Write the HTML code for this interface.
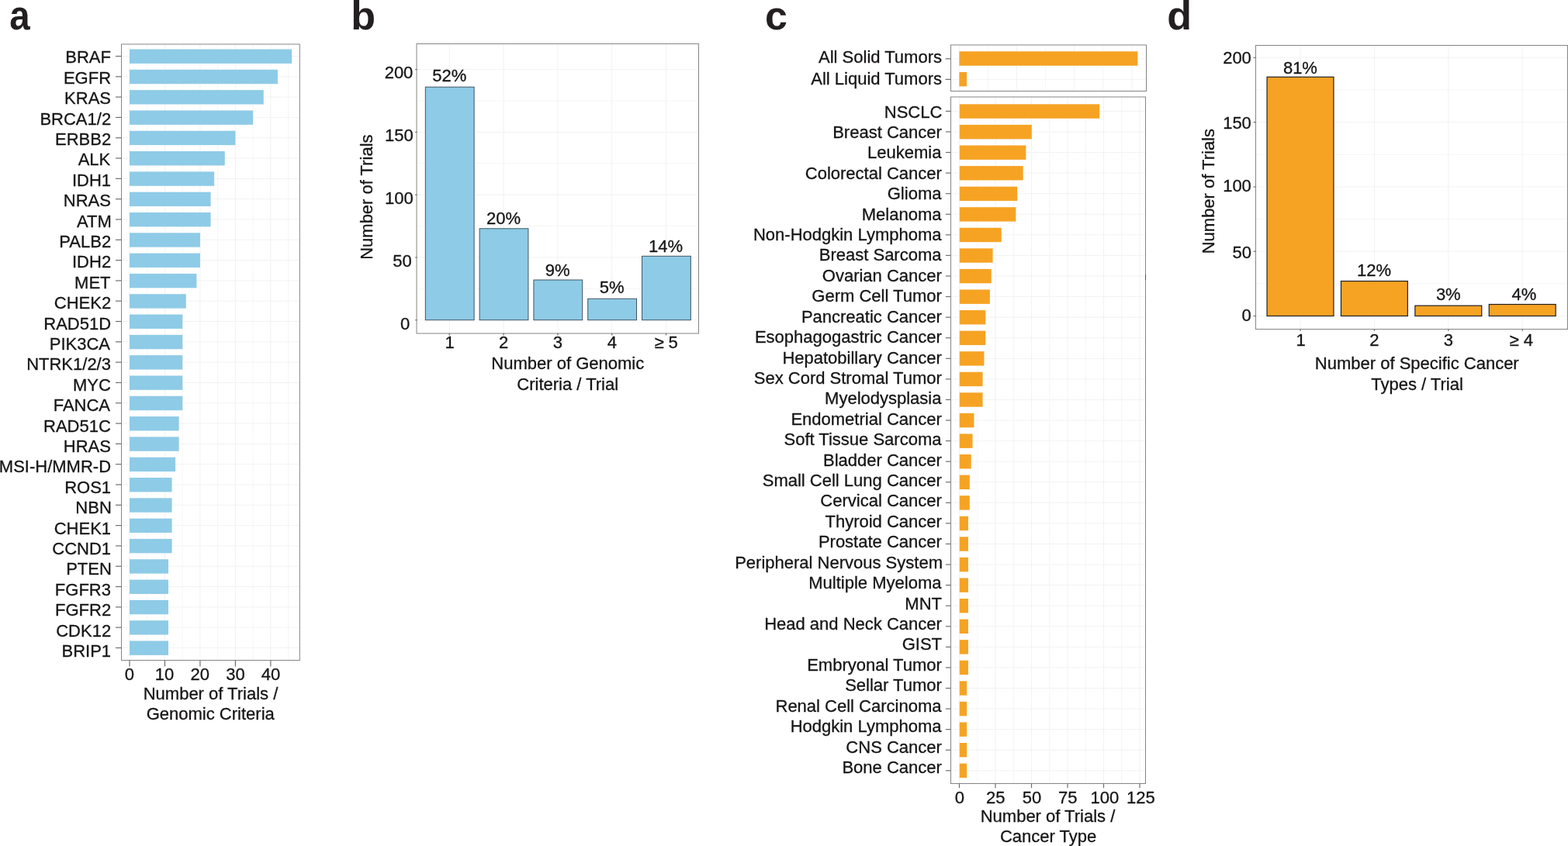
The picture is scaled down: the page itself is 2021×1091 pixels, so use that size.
<!DOCTYPE html>
<html><head><meta charset="utf-8"><title>Figure</title>
<style>
html,body{margin:0;padding:0;background:#ffffff;overflow:hidden;width:2021px;height:1091px;}
svg{display:block;}
text{font-family:"Liberation Sans",Arial,Helvetica,sans-serif;fill:#161415;stroke:#161415;stroke-width:0.3px;}
</style></head>
<body>
<svg width="2021" height="1091" viewBox="0 0 2021 1091">
<rect x="0" y="0" width="2021" height="1091" fill="#ffffff"/>
<text transform="translate(13.75,0) scale(0.913,1)" x="-1.56" y="38.2" font-size="52" font-weight="bold" style="fill:#231f20;stroke:none">a</text>
<text x="452.22" y="38.2" font-size="52" font-weight="bold" style="fill:#231f20;stroke:none">b</text>
<text x="986.02" y="38.2" font-size="52" font-weight="bold" style="fill:#231f20;stroke:none">c</text>
<text x="1504.22" y="38.2" font-size="52" font-weight="bold" style="fill:#231f20;stroke:none">d</text>
<rect x="156.50" y="57.00" width="230.00" height="794.40" fill="#ffffff"/>
<line x1="167.00" y1="57.00" x2="167.00" y2="851.40" stroke="#f2f2f2" stroke-width="1.0"/>
<line x1="189.73" y1="57.00" x2="189.73" y2="851.40" stroke="#f5f5f5" stroke-width="1.0"/>
<line x1="212.46" y1="57.00" x2="212.46" y2="851.40" stroke="#f2f2f2" stroke-width="1.0"/>
<line x1="235.19" y1="57.00" x2="235.19" y2="851.40" stroke="#f5f5f5" stroke-width="1.0"/>
<line x1="257.92" y1="57.00" x2="257.92" y2="851.40" stroke="#f2f2f2" stroke-width="1.0"/>
<line x1="280.65" y1="57.00" x2="280.65" y2="851.40" stroke="#f5f5f5" stroke-width="1.0"/>
<line x1="303.38" y1="57.00" x2="303.38" y2="851.40" stroke="#f2f2f2" stroke-width="1.0"/>
<line x1="326.11" y1="57.00" x2="326.11" y2="851.40" stroke="#f5f5f5" stroke-width="1.0"/>
<line x1="348.84" y1="57.00" x2="348.84" y2="851.40" stroke="#f2f2f2" stroke-width="1.0"/>
<line x1="371.57" y1="57.00" x2="371.57" y2="851.40" stroke="#f5f5f5" stroke-width="1.0"/>
<line x1="156.50" y1="72.50" x2="386.50" y2="72.50" stroke="#f2f2f2" stroke-width="1.0"/>
<line x1="156.50" y1="98.81" x2="386.50" y2="98.81" stroke="#f2f2f2" stroke-width="1.0"/>
<line x1="156.50" y1="125.12" x2="386.50" y2="125.12" stroke="#f2f2f2" stroke-width="1.0"/>
<line x1="156.50" y1="151.43" x2="386.50" y2="151.43" stroke="#f2f2f2" stroke-width="1.0"/>
<line x1="156.50" y1="177.74" x2="386.50" y2="177.74" stroke="#f2f2f2" stroke-width="1.0"/>
<line x1="156.50" y1="204.05" x2="386.50" y2="204.05" stroke="#f2f2f2" stroke-width="1.0"/>
<line x1="156.50" y1="230.36" x2="386.50" y2="230.36" stroke="#f2f2f2" stroke-width="1.0"/>
<line x1="156.50" y1="256.67" x2="386.50" y2="256.67" stroke="#f2f2f2" stroke-width="1.0"/>
<line x1="156.50" y1="282.98" x2="386.50" y2="282.98" stroke="#f2f2f2" stroke-width="1.0"/>
<line x1="156.50" y1="309.29" x2="386.50" y2="309.29" stroke="#f2f2f2" stroke-width="1.0"/>
<line x1="156.50" y1="335.60" x2="386.50" y2="335.60" stroke="#f2f2f2" stroke-width="1.0"/>
<line x1="156.50" y1="361.91" x2="386.50" y2="361.91" stroke="#f2f2f2" stroke-width="1.0"/>
<line x1="156.50" y1="388.22" x2="386.50" y2="388.22" stroke="#f2f2f2" stroke-width="1.0"/>
<line x1="156.50" y1="414.53" x2="386.50" y2="414.53" stroke="#f2f2f2" stroke-width="1.0"/>
<line x1="156.50" y1="440.84" x2="386.50" y2="440.84" stroke="#f2f2f2" stroke-width="1.0"/>
<line x1="156.50" y1="467.15" x2="386.50" y2="467.15" stroke="#f2f2f2" stroke-width="1.0"/>
<line x1="156.50" y1="493.46" x2="386.50" y2="493.46" stroke="#f2f2f2" stroke-width="1.0"/>
<line x1="156.50" y1="519.77" x2="386.50" y2="519.77" stroke="#f2f2f2" stroke-width="1.0"/>
<line x1="156.50" y1="546.08" x2="386.50" y2="546.08" stroke="#f2f2f2" stroke-width="1.0"/>
<line x1="156.50" y1="572.39" x2="386.50" y2="572.39" stroke="#f2f2f2" stroke-width="1.0"/>
<line x1="156.50" y1="598.70" x2="386.50" y2="598.70" stroke="#f2f2f2" stroke-width="1.0"/>
<line x1="156.50" y1="625.01" x2="386.50" y2="625.01" stroke="#f2f2f2" stroke-width="1.0"/>
<line x1="156.50" y1="651.32" x2="386.50" y2="651.32" stroke="#f2f2f2" stroke-width="1.0"/>
<line x1="156.50" y1="677.63" x2="386.50" y2="677.63" stroke="#f2f2f2" stroke-width="1.0"/>
<line x1="156.50" y1="703.94" x2="386.50" y2="703.94" stroke="#f2f2f2" stroke-width="1.0"/>
<line x1="156.50" y1="730.25" x2="386.50" y2="730.25" stroke="#f2f2f2" stroke-width="1.0"/>
<line x1="156.50" y1="756.56" x2="386.50" y2="756.56" stroke="#f2f2f2" stroke-width="1.0"/>
<line x1="156.50" y1="782.87" x2="386.50" y2="782.87" stroke="#f2f2f2" stroke-width="1.0"/>
<line x1="156.50" y1="809.18" x2="386.50" y2="809.18" stroke="#f2f2f2" stroke-width="1.0"/>
<line x1="156.50" y1="835.49" x2="386.50" y2="835.49" stroke="#f2f2f2" stroke-width="1.0"/>
<rect x="167.00" y="63.50" width="209.12" height="18.40" fill="#8ecbe7"/>
<rect x="167.00" y="89.81" width="190.93" height="18.40" fill="#8ecbe7"/>
<rect x="167.00" y="116.12" width="172.75" height="18.40" fill="#8ecbe7"/>
<rect x="167.00" y="142.43" width="159.11" height="18.40" fill="#8ecbe7"/>
<rect x="167.00" y="168.74" width="136.38" height="18.40" fill="#8ecbe7"/>
<rect x="167.00" y="195.05" width="122.74" height="18.40" fill="#8ecbe7"/>
<rect x="167.00" y="221.36" width="109.10" height="18.40" fill="#8ecbe7"/>
<rect x="167.00" y="247.67" width="104.56" height="18.40" fill="#8ecbe7"/>
<rect x="167.00" y="273.98" width="104.56" height="18.40" fill="#8ecbe7"/>
<rect x="167.00" y="300.29" width="90.92" height="18.40" fill="#8ecbe7"/>
<rect x="167.00" y="326.60" width="90.92" height="18.40" fill="#8ecbe7"/>
<rect x="167.00" y="352.91" width="86.37" height="18.40" fill="#8ecbe7"/>
<rect x="167.00" y="379.22" width="72.74" height="18.40" fill="#8ecbe7"/>
<rect x="167.00" y="405.53" width="68.19" height="18.40" fill="#8ecbe7"/>
<rect x="167.00" y="431.84" width="68.19" height="18.40" fill="#8ecbe7"/>
<rect x="167.00" y="458.15" width="68.19" height="18.40" fill="#8ecbe7"/>
<rect x="167.00" y="484.46" width="68.19" height="18.40" fill="#8ecbe7"/>
<rect x="167.00" y="510.77" width="68.19" height="18.40" fill="#8ecbe7"/>
<rect x="167.00" y="537.08" width="63.64" height="18.40" fill="#8ecbe7"/>
<rect x="167.00" y="563.39" width="63.64" height="18.40" fill="#8ecbe7"/>
<rect x="167.00" y="589.70" width="59.10" height="18.40" fill="#8ecbe7"/>
<rect x="167.00" y="616.01" width="54.55" height="18.40" fill="#8ecbe7"/>
<rect x="167.00" y="642.32" width="54.55" height="18.40" fill="#8ecbe7"/>
<rect x="167.00" y="668.63" width="54.55" height="18.40" fill="#8ecbe7"/>
<rect x="167.00" y="694.94" width="54.55" height="18.40" fill="#8ecbe7"/>
<rect x="167.00" y="721.25" width="50.01" height="18.40" fill="#8ecbe7"/>
<rect x="167.00" y="747.56" width="50.01" height="18.40" fill="#8ecbe7"/>
<rect x="167.00" y="773.87" width="50.01" height="18.40" fill="#8ecbe7"/>
<rect x="167.00" y="800.18" width="50.01" height="18.40" fill="#8ecbe7"/>
<rect x="167.00" y="826.49" width="50.01" height="18.40" fill="#8ecbe7"/>
<rect x="156.50" y="57.00" width="229.80" height="794.50" fill="none" stroke="#858585" stroke-width="1"/>
<line x1="149.00" y1="72.50" x2="156.50" y2="72.50" stroke="#6f6f6f" stroke-width="1.2"/>
<text transform="translate(84.25,81.40) scale(1,1.0)" font-size="22.0">BRAF</text>
<line x1="149.00" y1="98.81" x2="156.50" y2="98.81" stroke="#6f6f6f" stroke-width="1.2"/>
<text transform="translate(81.94,107.80) scale(1,1.0)" font-size="22.0">EGFR</text>
<line x1="149.00" y1="125.12" x2="156.50" y2="125.12" stroke="#6f6f6f" stroke-width="1.2"/>
<text transform="translate(83.09,134.20) scale(1,1.0)" font-size="22.0">KRAS</text>
<line x1="149.00" y1="151.43" x2="156.50" y2="151.43" stroke="#6f6f6f" stroke-width="1.2"/>
<text transform="translate(51.42,160.60) scale(1,1.0)" font-size="22.0">BRCA1/2</text>
<line x1="149.00" y1="177.74" x2="156.50" y2="177.74" stroke="#6f6f6f" stroke-width="1.2"/>
<text transform="translate(71.00,187.00) scale(1,1.0)" font-size="22.0">ERBB2</text>
<line x1="149.00" y1="204.05" x2="156.50" y2="204.05" stroke="#6f6f6f" stroke-width="1.2"/>
<text transform="translate(100.69,213.40) scale(1,1.0)" font-size="22.0">ALK</text>
<line x1="149.00" y1="230.36" x2="156.50" y2="230.36" stroke="#6f6f6f" stroke-width="1.2"/>
<text transform="translate(92.94,239.80) scale(1,1.0)" font-size="22.0">IDH1</text>
<line x1="149.00" y1="256.67" x2="156.50" y2="256.67" stroke="#6f6f6f" stroke-width="1.2"/>
<text transform="translate(81.83,266.20) scale(1,1.0)" font-size="22.0">NRAS</text>
<line x1="149.00" y1="282.98" x2="156.50" y2="282.98" stroke="#6f6f6f" stroke-width="1.2"/>
<text transform="translate(99.05,292.60) scale(1,1.0)" font-size="22.0">ATM</text>
<line x1="149.00" y1="309.29" x2="156.50" y2="309.29" stroke="#6f6f6f" stroke-width="1.2"/>
<text transform="translate(76.28,319.00) scale(1,1.0)" font-size="22.0">PALB2</text>
<line x1="149.00" y1="335.60" x2="156.50" y2="335.60" stroke="#6f6f6f" stroke-width="1.2"/>
<text transform="translate(93.00,345.40) scale(1,1.0)" font-size="22.0">IDH2</text>
<line x1="149.00" y1="361.91" x2="156.50" y2="361.91" stroke="#6f6f6f" stroke-width="1.2"/>
<text transform="translate(96.08,371.80) scale(1,1.0)" font-size="22.0">MET</text>
<line x1="149.00" y1="388.22" x2="156.50" y2="388.22" stroke="#6f6f6f" stroke-width="1.2"/>
<text transform="translate(69.78,398.20) scale(1,1.0)" font-size="22.0">CHEK2</text>
<line x1="149.00" y1="414.53" x2="156.50" y2="414.53" stroke="#6f6f6f" stroke-width="1.2"/>
<text transform="translate(56.25,424.60) scale(1,1.0)" font-size="22.0">RAD51D</text>
<line x1="149.00" y1="440.84" x2="156.50" y2="440.84" stroke="#6f6f6f" stroke-width="1.2"/>
<text transform="translate(63.79,451.00) scale(1,1.0)" font-size="22.0">PIK3CA</text>
<line x1="149.00" y1="467.15" x2="156.50" y2="467.15" stroke="#6f6f6f" stroke-width="1.2"/>
<text transform="translate(34.15,477.40) scale(1,1.0)" font-size="22.0">NTRK1/2/3</text>
<line x1="149.00" y1="493.46" x2="156.50" y2="493.46" stroke="#6f6f6f" stroke-width="1.2"/>
<text transform="translate(93.93,503.80) scale(1,1.0)" font-size="22.0">MYC</text>
<line x1="149.00" y1="519.77" x2="156.50" y2="519.77" stroke="#6f6f6f" stroke-width="1.2"/>
<text transform="translate(68.69,530.20) scale(1,1.0)" font-size="22.0">FANCA</text>
<line x1="149.00" y1="546.08" x2="156.50" y2="546.08" stroke="#6f6f6f" stroke-width="1.2"/>
<text transform="translate(56.03,556.60) scale(1,1.0)" font-size="22.0">RAD51C</text>
<line x1="149.00" y1="572.39" x2="156.50" y2="572.39" stroke="#6f6f6f" stroke-width="1.2"/>
<text transform="translate(81.83,583.00) scale(1,1.0)" font-size="22.0">HRAS</text>
<line x1="149.00" y1="598.70" x2="156.50" y2="598.70" stroke="#6f6f6f" stroke-width="1.2"/>
<text transform="translate(-1.17,609.40) scale(1,1.0)" font-size="22.0">MSI-H/MMR-D</text>
<line x1="149.00" y1="625.01" x2="156.50" y2="625.01" stroke="#6f6f6f" stroke-width="1.2"/>
<text transform="translate(83.15,635.80) scale(1,1.0)" font-size="22.0">ROS1</text>
<line x1="149.00" y1="651.32" x2="156.50" y2="651.32" stroke="#6f6f6f" stroke-width="1.2"/>
<text transform="translate(97.34,662.20) scale(1,1.0)" font-size="22.0">NBN</text>
<line x1="149.00" y1="677.63" x2="156.50" y2="677.63" stroke="#6f6f6f" stroke-width="1.2"/>
<text transform="translate(69.73,688.60) scale(1,1.0)" font-size="22.0">CHEK1</text>
<line x1="149.00" y1="703.94" x2="156.50" y2="703.94" stroke="#6f6f6f" stroke-width="1.2"/>
<text transform="translate(67.25,715.00) scale(1,1.0)" font-size="22.0">CCND1</text>
<line x1="149.00" y1="730.25" x2="156.50" y2="730.25" stroke="#6f6f6f" stroke-width="1.2"/>
<text transform="translate(85.13,741.40) scale(1,1.0)" font-size="22.0">PTEN</text>
<line x1="149.00" y1="756.56" x2="156.50" y2="756.56" stroke="#6f6f6f" stroke-width="1.2"/>
<text transform="translate(70.83,767.80) scale(1,1.0)" font-size="22.0">FGFR3</text>
<line x1="149.00" y1="782.87" x2="156.50" y2="782.87" stroke="#6f6f6f" stroke-width="1.2"/>
<text transform="translate(71.00,794.20) scale(1,1.0)" font-size="22.0">FGFR2</text>
<line x1="149.00" y1="809.18" x2="156.50" y2="809.18" stroke="#6f6f6f" stroke-width="1.2"/>
<text transform="translate(72.20,820.60) scale(1,1.0)" font-size="22.0">CDK12</text>
<line x1="149.00" y1="835.49" x2="156.50" y2="835.49" stroke="#6f6f6f" stroke-width="1.2"/>
<text transform="translate(79.47,847.00) scale(1,1.0)" font-size="22.0">BRIP1</text>
<line x1="167.00" y1="851.40" x2="167.00" y2="859.40" stroke="#6f6f6f" stroke-width="1.2"/>
<text transform="translate(160.87,876.60) scale(1,1.0)" font-size="22.0">0</text>
<line x1="212.46" y1="851.40" x2="212.46" y2="859.40" stroke="#6f6f6f" stroke-width="1.2"/>
<text transform="translate(199.84,876.60) scale(1,1.0)" font-size="22.0">10</text>
<line x1="257.92" y1="851.40" x2="257.92" y2="859.40" stroke="#6f6f6f" stroke-width="1.2"/>
<text transform="translate(245.57,876.60) scale(1,1.0)" font-size="22.0">20</text>
<line x1="303.38" y1="851.40" x2="303.38" y2="859.40" stroke="#6f6f6f" stroke-width="1.2"/>
<text transform="translate(291.17,876.60) scale(1,1.0)" font-size="22.0">30</text>
<line x1="348.84" y1="851.40" x2="348.84" y2="859.40" stroke="#6f6f6f" stroke-width="1.2"/>
<text transform="translate(336.80,876.60) scale(1,1.0)" font-size="22.0">40</text>
<text transform="translate(184.70,901.70) scale(1,1.0)" font-size="22.0">Number of Trials /</text>
<text transform="translate(188.72,928.20) scale(1,1.0)" font-size="22.0">Genomic Criteria</text>
<rect x="537.60" y="56.60" width="363.00" height="373.20" fill="#ffffff"/>
<line x1="537.60" y1="412.70" x2="900.60" y2="412.70" stroke="#f2f2f2" stroke-width="1.0"/>
<line x1="537.60" y1="372.31" x2="900.60" y2="372.31" stroke="#f5f5f5" stroke-width="1.0"/>
<line x1="537.60" y1="331.93" x2="900.60" y2="331.93" stroke="#f2f2f2" stroke-width="1.0"/>
<line x1="537.60" y1="291.54" x2="900.60" y2="291.54" stroke="#f5f5f5" stroke-width="1.0"/>
<line x1="537.60" y1="251.15" x2="900.60" y2="251.15" stroke="#f2f2f2" stroke-width="1.0"/>
<line x1="537.60" y1="210.76" x2="900.60" y2="210.76" stroke="#f5f5f5" stroke-width="1.0"/>
<line x1="537.60" y1="170.38" x2="900.60" y2="170.38" stroke="#f2f2f2" stroke-width="1.0"/>
<line x1="537.60" y1="129.99" x2="900.60" y2="129.99" stroke="#f5f5f5" stroke-width="1.0"/>
<line x1="537.60" y1="89.60" x2="900.60" y2="89.60" stroke="#f2f2f2" stroke-width="1.0"/>
<line x1="579.30" y1="56.60" x2="579.30" y2="429.80" stroke="#f2f2f2" stroke-width="1.0"/>
<line x1="649.10" y1="56.60" x2="649.10" y2="429.80" stroke="#f2f2f2" stroke-width="1.0"/>
<line x1="718.90" y1="56.60" x2="718.90" y2="429.80" stroke="#f2f2f2" stroke-width="1.0"/>
<line x1="788.70" y1="56.60" x2="788.70" y2="429.80" stroke="#f2f2f2" stroke-width="1.0"/>
<line x1="858.50" y1="56.60" x2="858.50" y2="429.80" stroke="#f2f2f2" stroke-width="1.0"/>
<rect x="548.30" y="112.22" width="62.80" height="300.48" fill="#8ecbe7" stroke="#3f5663" stroke-width="1.0"/>
<rect x="618.10" y="294.77" width="62.80" height="117.93" fill="#8ecbe7" stroke="#3f5663" stroke-width="1.0"/>
<rect x="687.90" y="361.00" width="62.80" height="51.70" fill="#8ecbe7" stroke="#3f5663" stroke-width="1.0"/>
<rect x="757.70" y="385.24" width="62.80" height="27.46" fill="#8ecbe7" stroke="#3f5663" stroke-width="1.0"/>
<rect x="827.50" y="330.31" width="62.80" height="82.39" fill="#8ecbe7" stroke="#3f5663" stroke-width="1.0"/>
<rect x="537.00" y="56.50" width="363.50" height="373.50" fill="none" stroke="#858585" stroke-width="1"/>
<line x1="535.20" y1="412.70" x2="537.60" y2="412.70" stroke="#6f6f6f" stroke-width="1.2"/>
<text transform="translate(516.12,425.20) scale(1,1.0)" font-size="22.0">0</text>
<line x1="535.20" y1="331.93" x2="537.60" y2="331.93" stroke="#6f6f6f" stroke-width="1.2"/>
<text transform="translate(506.20,344.10) scale(1,1.0)" font-size="22.0">50</text>
<line x1="535.20" y1="251.15" x2="537.60" y2="251.15" stroke="#6f6f6f" stroke-width="1.2"/>
<text transform="translate(496.04,263.00) scale(1,1.0)" font-size="22.0">100</text>
<line x1="535.20" y1="170.38" x2="537.60" y2="170.38" stroke="#6f6f6f" stroke-width="1.2"/>
<text transform="translate(495.94,181.90) scale(1,1.0)" font-size="22.0">150</text>
<line x1="535.20" y1="89.60" x2="537.60" y2="89.60" stroke="#6f6f6f" stroke-width="1.2"/>
<text transform="translate(495.64,100.80) scale(1,1.0)" font-size="22.0">200</text>
<line x1="579.30" y1="429.80" x2="579.30" y2="432.40" stroke="#6f6f6f" stroke-width="1.2"/>
<text transform="translate(573.59,449.40) scale(1,1.0)" font-size="22.0">1</text>
<line x1="649.10" y1="429.80" x2="649.10" y2="432.40" stroke="#6f6f6f" stroke-width="1.2"/>
<text transform="translate(642.99,449.40) scale(1,1.0)" font-size="22.0">2</text>
<line x1="718.90" y1="429.80" x2="718.90" y2="432.40" stroke="#6f6f6f" stroke-width="1.2"/>
<text transform="translate(712.85,449.40) scale(1,1.0)" font-size="22.0">3</text>
<line x1="788.70" y1="429.80" x2="788.70" y2="432.40" stroke="#6f6f6f" stroke-width="1.2"/>
<text transform="translate(782.65,449.40) scale(1,1.0)" font-size="22.0">4</text>
<line x1="858.50" y1="429.80" x2="858.50" y2="432.40" stroke="#6f6f6f" stroke-width="1.2"/>
<text transform="translate(843.38,449.40) scale(1,1.0)" font-size="22.0">≥ 5</text>
<text transform="translate(557.22,105.10) scale(1,1.0)" font-size="22.0">52%</text>
<text transform="translate(626.91,289.30) scale(1,1.0)" font-size="22.0">20%</text>
<text transform="translate(702.87,356.20) scale(1,1.0)" font-size="22.0">9%</text>
<text transform="translate(772.75,377.80) scale(1,1.0)" font-size="22.0">5%</text>
<text transform="translate(836.03,324.50) scale(1,1.0)" font-size="22.0">14%</text>
<text transform="translate(633.37,476.20) scale(1,1.0)" font-size="22.0">Number of Genomic</text>
<text transform="translate(666.30,502.60) scale(1,1.0)" font-size="22.0">Criteria / Trial</text>
<text transform="translate(479.60,334.81) rotate(-90) scale(1,1.0)" font-size="22.0">Number of Trials</text>
<rect x="1225.30" y="58.00" width="252.20" height="59.50" fill="#ffffff"/>
<line x1="1236.40" y1="58.00" x2="1236.40" y2="117.50" stroke="#f2f2f2" stroke-width="1.0"/>
<line x1="1273.47" y1="58.00" x2="1273.47" y2="117.50" stroke="#f5f5f5" stroke-width="1.0"/>
<line x1="1310.54" y1="58.00" x2="1310.54" y2="117.50" stroke="#f2f2f2" stroke-width="1.0"/>
<line x1="1347.61" y1="58.00" x2="1347.61" y2="117.50" stroke="#f5f5f5" stroke-width="1.0"/>
<line x1="1384.68" y1="58.00" x2="1384.68" y2="117.50" stroke="#f2f2f2" stroke-width="1.0"/>
<line x1="1421.75" y1="58.00" x2="1421.75" y2="117.50" stroke="#f5f5f5" stroke-width="1.0"/>
<line x1="1458.82" y1="58.00" x2="1458.82" y2="117.50" stroke="#f2f2f2" stroke-width="1.0"/>
<line x1="1225.30" y1="75.80" x2="1477.50" y2="75.80" stroke="#f2f2f2" stroke-width="1.0"/>
<line x1="1225.30" y1="102.40" x2="1477.50" y2="102.40" stroke="#f2f2f2" stroke-width="1.0"/>
<rect x="1236.40" y="66.30" width="230.00" height="18.40" fill="#f6a324"/>
<rect x="1236.40" y="93.00" width="9.60" height="18.40" fill="#f6a324"/>
<rect x="1225.50" y="58.00" width="252.00" height="59.50" fill="none" stroke="#858585" stroke-width="1"/>
<line x1="1218.50" y1="75.80" x2="1225.30" y2="75.80" stroke="#6f6f6f" stroke-width="1.2"/>
<text transform="translate(1055.02,81.20) scale(1,1.0)" font-size="22.0">All Solid Tumors</text>
<line x1="1218.50" y1="102.40" x2="1225.30" y2="102.40" stroke="#6f6f6f" stroke-width="1.2"/>
<text transform="translate(1045.23,108.70) scale(1,1.0)" font-size="22.0">All Liquid Tumors</text>
<rect x="1225.30" y="124.50" width="251.30" height="885.70" fill="#ffffff"/>
<line x1="1236.50" y1="124.50" x2="1236.50" y2="1010.20" stroke="#f2f2f2" stroke-width="1.0"/>
<line x1="1259.75" y1="124.50" x2="1259.75" y2="1010.20" stroke="#f5f5f5" stroke-width="1.0"/>
<line x1="1283.00" y1="124.50" x2="1283.00" y2="1010.20" stroke="#f2f2f2" stroke-width="1.0"/>
<line x1="1306.25" y1="124.50" x2="1306.25" y2="1010.20" stroke="#f5f5f5" stroke-width="1.0"/>
<line x1="1329.50" y1="124.50" x2="1329.50" y2="1010.20" stroke="#f2f2f2" stroke-width="1.0"/>
<line x1="1352.75" y1="124.50" x2="1352.75" y2="1010.20" stroke="#f5f5f5" stroke-width="1.0"/>
<line x1="1376.00" y1="124.50" x2="1376.00" y2="1010.20" stroke="#f2f2f2" stroke-width="1.0"/>
<line x1="1399.25" y1="124.50" x2="1399.25" y2="1010.20" stroke="#f5f5f5" stroke-width="1.0"/>
<line x1="1422.50" y1="124.50" x2="1422.50" y2="1010.20" stroke="#f2f2f2" stroke-width="1.0"/>
<line x1="1445.75" y1="124.50" x2="1445.75" y2="1010.20" stroke="#f5f5f5" stroke-width="1.0"/>
<line x1="1469.00" y1="124.50" x2="1469.00" y2="1010.20" stroke="#f2f2f2" stroke-width="1.0"/>
<line x1="1225.30" y1="143.40" x2="1476.60" y2="143.40" stroke="#f2f2f2" stroke-width="1.0"/>
<line x1="1225.30" y1="169.97" x2="1476.60" y2="169.97" stroke="#f2f2f2" stroke-width="1.0"/>
<line x1="1225.30" y1="196.55" x2="1476.60" y2="196.55" stroke="#f2f2f2" stroke-width="1.0"/>
<line x1="1225.30" y1="223.12" x2="1476.60" y2="223.12" stroke="#f2f2f2" stroke-width="1.0"/>
<line x1="1225.30" y1="249.70" x2="1476.60" y2="249.70" stroke="#f2f2f2" stroke-width="1.0"/>
<line x1="1225.30" y1="276.27" x2="1476.60" y2="276.27" stroke="#f2f2f2" stroke-width="1.0"/>
<line x1="1225.30" y1="302.85" x2="1476.60" y2="302.85" stroke="#f2f2f2" stroke-width="1.0"/>
<line x1="1225.30" y1="329.43" x2="1476.60" y2="329.43" stroke="#f2f2f2" stroke-width="1.0"/>
<line x1="1225.30" y1="356.00" x2="1476.60" y2="356.00" stroke="#f2f2f2" stroke-width="1.0"/>
<line x1="1225.30" y1="382.57" x2="1476.60" y2="382.57" stroke="#f2f2f2" stroke-width="1.0"/>
<line x1="1225.30" y1="409.15" x2="1476.60" y2="409.15" stroke="#f2f2f2" stroke-width="1.0"/>
<line x1="1225.30" y1="435.73" x2="1476.60" y2="435.73" stroke="#f2f2f2" stroke-width="1.0"/>
<line x1="1225.30" y1="462.30" x2="1476.60" y2="462.30" stroke="#f2f2f2" stroke-width="1.0"/>
<line x1="1225.30" y1="488.88" x2="1476.60" y2="488.88" stroke="#f2f2f2" stroke-width="1.0"/>
<line x1="1225.30" y1="515.45" x2="1476.60" y2="515.45" stroke="#f2f2f2" stroke-width="1.0"/>
<line x1="1225.30" y1="542.02" x2="1476.60" y2="542.02" stroke="#f2f2f2" stroke-width="1.0"/>
<line x1="1225.30" y1="568.60" x2="1476.60" y2="568.60" stroke="#f2f2f2" stroke-width="1.0"/>
<line x1="1225.30" y1="595.17" x2="1476.60" y2="595.17" stroke="#f2f2f2" stroke-width="1.0"/>
<line x1="1225.30" y1="621.75" x2="1476.60" y2="621.75" stroke="#f2f2f2" stroke-width="1.0"/>
<line x1="1225.30" y1="648.33" x2="1476.60" y2="648.33" stroke="#f2f2f2" stroke-width="1.0"/>
<line x1="1225.30" y1="674.90" x2="1476.60" y2="674.90" stroke="#f2f2f2" stroke-width="1.0"/>
<line x1="1225.30" y1="701.47" x2="1476.60" y2="701.47" stroke="#f2f2f2" stroke-width="1.0"/>
<line x1="1225.30" y1="728.05" x2="1476.60" y2="728.05" stroke="#f2f2f2" stroke-width="1.0"/>
<line x1="1225.30" y1="754.62" x2="1476.60" y2="754.62" stroke="#f2f2f2" stroke-width="1.0"/>
<line x1="1225.30" y1="781.20" x2="1476.60" y2="781.20" stroke="#f2f2f2" stroke-width="1.0"/>
<line x1="1225.30" y1="807.77" x2="1476.60" y2="807.77" stroke="#f2f2f2" stroke-width="1.0"/>
<line x1="1225.30" y1="834.35" x2="1476.60" y2="834.35" stroke="#f2f2f2" stroke-width="1.0"/>
<line x1="1225.30" y1="860.92" x2="1476.60" y2="860.92" stroke="#f2f2f2" stroke-width="1.0"/>
<line x1="1225.30" y1="887.50" x2="1476.60" y2="887.50" stroke="#f2f2f2" stroke-width="1.0"/>
<line x1="1225.30" y1="914.07" x2="1476.60" y2="914.07" stroke="#f2f2f2" stroke-width="1.0"/>
<line x1="1225.30" y1="940.65" x2="1476.60" y2="940.65" stroke="#f2f2f2" stroke-width="1.0"/>
<line x1="1225.30" y1="967.22" x2="1476.60" y2="967.22" stroke="#f2f2f2" stroke-width="1.0"/>
<line x1="1225.30" y1="993.80" x2="1476.60" y2="993.80" stroke="#f2f2f2" stroke-width="1.0"/>
<rect x="1236.80" y="134.35" width="180.42" height="18.40" fill="#f6a324"/>
<rect x="1236.80" y="160.92" width="93.00" height="18.40" fill="#f6a324"/>
<rect x="1236.80" y="187.49" width="85.56" height="18.40" fill="#f6a324"/>
<rect x="1236.80" y="214.06" width="81.84" height="18.40" fill="#f6a324"/>
<rect x="1236.80" y="240.63" width="74.40" height="18.40" fill="#f6a324"/>
<rect x="1236.80" y="267.20" width="72.54" height="18.40" fill="#f6a324"/>
<rect x="1236.80" y="293.77" width="53.94" height="18.40" fill="#f6a324"/>
<rect x="1236.80" y="320.34" width="42.78" height="18.40" fill="#f6a324"/>
<rect x="1236.80" y="346.91" width="40.92" height="18.40" fill="#f6a324"/>
<rect x="1236.80" y="373.48" width="39.06" height="18.40" fill="#f6a324"/>
<rect x="1236.80" y="400.05" width="33.48" height="18.40" fill="#f6a324"/>
<rect x="1236.80" y="426.62" width="33.48" height="18.40" fill="#f6a324"/>
<rect x="1236.80" y="453.19" width="31.62" height="18.40" fill="#f6a324"/>
<rect x="1236.80" y="479.76" width="29.76" height="18.40" fill="#f6a324"/>
<rect x="1236.80" y="506.33" width="29.76" height="18.40" fill="#f6a324"/>
<rect x="1236.80" y="532.90" width="18.60" height="18.40" fill="#f6a324"/>
<rect x="1236.80" y="559.47" width="16.74" height="18.40" fill="#f6a324"/>
<rect x="1236.80" y="586.04" width="14.88" height="18.40" fill="#f6a324"/>
<rect x="1236.80" y="612.61" width="13.02" height="18.40" fill="#f6a324"/>
<rect x="1236.80" y="639.18" width="13.02" height="18.40" fill="#f6a324"/>
<rect x="1236.80" y="665.75" width="11.16" height="18.40" fill="#f6a324"/>
<rect x="1236.80" y="692.32" width="11.16" height="18.40" fill="#f6a324"/>
<rect x="1236.80" y="718.89" width="11.16" height="18.40" fill="#f6a324"/>
<rect x="1236.80" y="745.46" width="11.16" height="18.40" fill="#f6a324"/>
<rect x="1236.80" y="772.03" width="11.16" height="18.40" fill="#f6a324"/>
<rect x="1236.80" y="798.60" width="11.16" height="18.40" fill="#f6a324"/>
<rect x="1236.80" y="825.17" width="11.16" height="18.40" fill="#f6a324"/>
<rect x="1236.80" y="851.74" width="11.16" height="18.40" fill="#f6a324"/>
<rect x="1236.80" y="878.31" width="9.30" height="18.40" fill="#f6a324"/>
<rect x="1236.80" y="904.88" width="9.30" height="18.40" fill="#f6a324"/>
<rect x="1236.80" y="931.45" width="9.30" height="18.40" fill="#f6a324"/>
<rect x="1236.80" y="958.02" width="9.30" height="18.40" fill="#f6a324"/>
<rect x="1236.80" y="984.59" width="9.30" height="18.40" fill="#f6a324"/>
<rect x="1225.50" y="125.00" width="251.00" height="885.50" fill="none" stroke="#858585" stroke-width="1"/>
<line x1="1476.50" y1="354.00" x2="1476.50" y2="361.00" stroke="#555555" stroke-width="1.0"/>
<line x1="1218.90" y1="143.40" x2="1225.30" y2="143.40" stroke="#6f6f6f" stroke-width="1.2"/>
<text transform="translate(1139.74,151.50) scale(1,1.0)" font-size="22.0">NSCLC</text>
<line x1="1218.90" y1="169.97" x2="1225.30" y2="169.97" stroke="#6f6f6f" stroke-width="1.2"/>
<text transform="translate(1073.19,177.92) scale(1,1.0)" font-size="22.0">Breast Cancer</text>
<line x1="1218.90" y1="196.55" x2="1225.30" y2="196.55" stroke="#6f6f6f" stroke-width="1.2"/>
<text transform="translate(1118.08,204.34) scale(1,1.0)" font-size="22.0">Leukemia</text>
<line x1="1218.90" y1="223.12" x2="1225.30" y2="223.12" stroke="#6f6f6f" stroke-width="1.2"/>
<text transform="translate(1037.78,230.76) scale(1,1.0)" font-size="22.0">Colorectal Cancer</text>
<line x1="1218.90" y1="249.70" x2="1225.30" y2="249.70" stroke="#6f6f6f" stroke-width="1.2"/>
<text transform="translate(1143.76,257.18) scale(1,1.0)" font-size="22.0">Glioma</text>
<line x1="1218.90" y1="276.27" x2="1225.30" y2="276.27" stroke="#6f6f6f" stroke-width="1.2"/>
<text transform="translate(1110.76,283.60) scale(1,1.0)" font-size="22.0">Melanoma</text>
<line x1="1218.90" y1="302.85" x2="1225.30" y2="302.85" stroke="#6f6f6f" stroke-width="1.2"/>
<text transform="translate(970.95,310.02) scale(1,1.0)" font-size="22.0">Non-Hodgkin Lymphoma</text>
<line x1="1218.90" y1="329.43" x2="1225.30" y2="329.43" stroke="#6f6f6f" stroke-width="1.2"/>
<text transform="translate(1055.76,336.44) scale(1,1.0)" font-size="22.0">Breast Sarcoma</text>
<line x1="1218.90" y1="356.00" x2="1225.30" y2="356.00" stroke="#6f6f6f" stroke-width="1.2"/>
<text transform="translate(1059.78,362.86) scale(1,1.0)" font-size="22.0">Ovarian Cancer</text>
<line x1="1218.90" y1="382.57" x2="1225.30" y2="382.57" stroke="#6f6f6f" stroke-width="1.2"/>
<text transform="translate(1046.36,389.28) scale(1,1.0)" font-size="22.0">Germ Cell Tumor</text>
<line x1="1218.90" y1="409.15" x2="1225.30" y2="409.15" stroke="#6f6f6f" stroke-width="1.2"/>
<text transform="translate(1032.88,415.70) scale(1,1.0)" font-size="22.0">Pancreatic Cancer</text>
<line x1="1218.90" y1="435.73" x2="1225.30" y2="435.73" stroke="#6f6f6f" stroke-width="1.2"/>
<text transform="translate(972.93,442.12) scale(1,1.0)" font-size="22.0">Esophagogastric Cancer</text>
<line x1="1218.90" y1="462.30" x2="1225.30" y2="462.30" stroke="#6f6f6f" stroke-width="1.2"/>
<text transform="translate(1008.40,468.54) scale(1,1.0)" font-size="22.0">Hepatobillary Cancer</text>
<line x1="1218.90" y1="488.88" x2="1225.30" y2="488.88" stroke="#6f6f6f" stroke-width="1.2"/>
<text transform="translate(971.77,494.96) scale(1,1.0)" font-size="22.0">Sex Cord Stromal Tumor</text>
<line x1="1218.90" y1="515.45" x2="1225.30" y2="515.45" stroke="#6f6f6f" stroke-width="1.2"/>
<text transform="translate(1063.08,521.38) scale(1,1.0)" font-size="22.0">Myelodysplasia</text>
<line x1="1218.90" y1="542.02" x2="1225.30" y2="542.02" stroke="#6f6f6f" stroke-width="1.2"/>
<text transform="translate(1019.40,547.80) scale(1,1.0)" font-size="22.0">Endometrial Cancer</text>
<line x1="1218.90" y1="568.60" x2="1225.30" y2="568.60" stroke="#6f6f6f" stroke-width="1.2"/>
<text transform="translate(1010.50,574.22) scale(1,1.0)" font-size="22.0">Soft Tissue Sarcoma</text>
<line x1="1218.90" y1="595.17" x2="1225.30" y2="595.17" stroke="#6f6f6f" stroke-width="1.2"/>
<text transform="translate(1060.98,600.64) scale(1,1.0)" font-size="22.0">Bladder Cancer</text>
<line x1="1218.90" y1="621.75" x2="1225.30" y2="621.75" stroke="#6f6f6f" stroke-width="1.2"/>
<text transform="translate(982.72,627.06) scale(1,1.0)" font-size="22.0">Small Cell Lung Cancer</text>
<line x1="1218.90" y1="648.33" x2="1225.30" y2="648.33" stroke="#6f6f6f" stroke-width="1.2"/>
<text transform="translate(1057.36,653.48) scale(1,1.0)" font-size="22.0">Cervical Cancer</text>
<line x1="1218.90" y1="674.90" x2="1225.30" y2="674.90" stroke="#6f6f6f" stroke-width="1.2"/>
<text transform="translate(1063.46,679.90) scale(1,1.0)" font-size="22.0">Thyroid Cancer</text>
<line x1="1218.90" y1="701.47" x2="1225.30" y2="701.47" stroke="#6f6f6f" stroke-width="1.2"/>
<text transform="translate(1054.88,706.32) scale(1,1.0)" font-size="22.0">Prostate Cancer</text>
<line x1="1218.90" y1="728.05" x2="1225.30" y2="728.05" stroke="#6f6f6f" stroke-width="1.2"/>
<text transform="translate(947.19,732.74) scale(1,1.0)" font-size="22.0">Peripheral Nervous System</text>
<line x1="1218.90" y1="754.62" x2="1225.30" y2="754.62" stroke="#6f6f6f" stroke-width="1.2"/>
<text transform="translate(1042.29,759.16) scale(1,1.0)" font-size="22.0">Multiple Myeloma</text>
<line x1="1218.90" y1="781.20" x2="1225.30" y2="781.20" stroke="#6f6f6f" stroke-width="1.2"/>
<text transform="translate(1166.37,785.58) scale(1,1.0)" font-size="22.0">MNT</text>
<line x1="1218.90" y1="807.77" x2="1225.30" y2="807.77" stroke="#6f6f6f" stroke-width="1.2"/>
<text transform="translate(985.14,812.00) scale(1,1.0)" font-size="22.0">Head and Neck Cancer</text>
<line x1="1218.90" y1="834.35" x2="1225.30" y2="834.35" stroke="#6f6f6f" stroke-width="1.2"/>
<text transform="translate(1162.68,838.42) scale(1,1.0)" font-size="22.0">GIST</text>
<line x1="1218.90" y1="860.92" x2="1225.30" y2="860.92" stroke="#6f6f6f" stroke-width="1.2"/>
<text transform="translate(1040.19,864.84) scale(1,1.0)" font-size="22.0">Embryonal Tumor</text>
<line x1="1218.90" y1="887.50" x2="1225.30" y2="887.50" stroke="#6f6f6f" stroke-width="1.2"/>
<text transform="translate(1089.14,891.26) scale(1,1.0)" font-size="22.0">Sellar Tumor</text>
<line x1="1218.90" y1="914.07" x2="1225.30" y2="914.07" stroke="#6f6f6f" stroke-width="1.2"/>
<text transform="translate(999.50,917.68) scale(1,1.0)" font-size="22.0">Renal Cell Carcinoma</text>
<line x1="1218.90" y1="940.65" x2="1225.30" y2="940.65" stroke="#6f6f6f" stroke-width="1.2"/>
<text transform="translate(1018.63,944.10) scale(1,1.0)" font-size="22.0">Hodgkin Lymphoma</text>
<line x1="1218.90" y1="967.22" x2="1225.30" y2="967.22" stroke="#6f6f6f" stroke-width="1.2"/>
<text transform="translate(1090.36,970.52) scale(1,1.0)" font-size="22.0">CNS Cancer</text>
<line x1="1218.90" y1="993.80" x2="1225.30" y2="993.80" stroke="#6f6f6f" stroke-width="1.2"/>
<text transform="translate(1085.40,996.94) scale(1,1.0)" font-size="22.0">Bone Cancer</text>
<line x1="1236.50" y1="1010.20" x2="1236.50" y2="1016.20" stroke="#6f6f6f" stroke-width="1.2"/>
<text transform="translate(1230.77,1035.60) scale(1,1.0)" font-size="22.0">0</text>
<line x1="1283.00" y1="1010.20" x2="1283.00" y2="1016.20" stroke="#6f6f6f" stroke-width="1.2"/>
<text transform="translate(1271.08,1035.60) scale(1,1.0)" font-size="22.0">25</text>
<line x1="1329.50" y1="1010.20" x2="1329.50" y2="1016.20" stroke="#6f6f6f" stroke-width="1.2"/>
<text transform="translate(1317.66,1035.60) scale(1,1.0)" font-size="22.0">50</text>
<line x1="1376.00" y1="1010.20" x2="1376.00" y2="1016.20" stroke="#6f6f6f" stroke-width="1.2"/>
<text transform="translate(1364.08,1035.60) scale(1,1.0)" font-size="22.0">75</text>
<line x1="1422.50" y1="1010.20" x2="1422.50" y2="1016.20" stroke="#6f6f6f" stroke-width="1.2"/>
<text transform="translate(1405.44,1035.60) scale(1,1.0)" font-size="22.0">100</text>
<line x1="1469.00" y1="1010.20" x2="1469.00" y2="1016.20" stroke="#6f6f6f" stroke-width="1.2"/>
<text transform="translate(1451.97,1035.60) scale(1,1.0)" font-size="22.0">125</text>
<text transform="translate(1263.70,1059.50) scale(1,1.0)" font-size="22.0">Number of Trials /</text>
<text transform="translate(1288.97,1086.00) scale(1,1.0)" font-size="22.0">Cancer Type</text>
<rect x="1618.60" y="58.30" width="401.70" height="366.20" fill="#ffffff"/>
<line x1="1618.60" y1="407.50" x2="2020.30" y2="407.50" stroke="#f2f2f2" stroke-width="1.0"/>
<line x1="1618.60" y1="365.85" x2="2020.30" y2="365.85" stroke="#f5f5f5" stroke-width="1.0"/>
<line x1="1618.60" y1="324.20" x2="2020.30" y2="324.20" stroke="#f2f2f2" stroke-width="1.0"/>
<line x1="1618.60" y1="282.55" x2="2020.30" y2="282.55" stroke="#f5f5f5" stroke-width="1.0"/>
<line x1="1618.60" y1="240.90" x2="2020.30" y2="240.90" stroke="#f2f2f2" stroke-width="1.0"/>
<line x1="1618.60" y1="199.25" x2="2020.30" y2="199.25" stroke="#f5f5f5" stroke-width="1.0"/>
<line x1="1618.60" y1="157.60" x2="2020.30" y2="157.60" stroke="#f2f2f2" stroke-width="1.0"/>
<line x1="1618.60" y1="115.95" x2="2020.30" y2="115.95" stroke="#f5f5f5" stroke-width="1.0"/>
<line x1="1618.60" y1="74.30" x2="2020.30" y2="74.30" stroke="#f2f2f2" stroke-width="1.0"/>
<line x1="1676.00" y1="58.30" x2="1676.00" y2="424.50" stroke="#f2f2f2" stroke-width="1.0"/>
<line x1="1771.40" y1="58.30" x2="1771.40" y2="424.50" stroke="#f2f2f2" stroke-width="1.0"/>
<line x1="1866.80" y1="58.30" x2="1866.80" y2="424.50" stroke="#f2f2f2" stroke-width="1.0"/>
<line x1="1962.20" y1="58.30" x2="1962.20" y2="424.50" stroke="#f2f2f2" stroke-width="1.0"/>
<rect x="1633.05" y="99.29" width="85.90" height="308.21" fill="#f6a324" stroke="#231f20" stroke-width="1.2"/>
<rect x="1728.45" y="362.52" width="85.90" height="44.98" fill="#f6a324" stroke="#231f20" stroke-width="1.2"/>
<rect x="1823.85" y="394.17" width="85.90" height="13.33" fill="#f6a324" stroke="#231f20" stroke-width="1.2"/>
<rect x="1919.25" y="392.51" width="85.90" height="14.99" fill="#f6a324" stroke="#231f20" stroke-width="1.2"/>
<rect x="1618.50" y="58.50" width="402.00" height="366.00" fill="none" stroke="#858585" stroke-width="1"/>
<line x1="1615.50" y1="407.50" x2="1618.60" y2="407.50" stroke="#6f6f6f" stroke-width="1.2"/>
<text transform="translate(1600.62,413.70) scale(1,1.0)" font-size="22.0">0</text>
<line x1="1615.50" y1="324.20" x2="1618.60" y2="324.20" stroke="#6f6f6f" stroke-width="1.2"/>
<text transform="translate(1588.40,333.30) scale(1,1.0)" font-size="22.0">50</text>
<line x1="1615.50" y1="240.90" x2="1618.60" y2="240.90" stroke="#6f6f6f" stroke-width="1.2"/>
<text transform="translate(1576.14,246.80) scale(1,1.0)" font-size="22.0">100</text>
<line x1="1615.50" y1="157.60" x2="1618.60" y2="157.60" stroke="#6f6f6f" stroke-width="1.2"/>
<text transform="translate(1576.14,166.00) scale(1,1.0)" font-size="22.0">150</text>
<line x1="1615.50" y1="74.30" x2="1618.60" y2="74.30" stroke="#6f6f6f" stroke-width="1.2"/>
<text transform="translate(1576.14,81.90) scale(1,1.0)" font-size="22.0">200</text>
<line x1="1676.00" y1="424.50" x2="1676.00" y2="427.10" stroke="#6f6f6f" stroke-width="1.2"/>
<text transform="translate(1670.59,445.60) scale(1,1.0)" font-size="22.0">1</text>
<line x1="1771.40" y1="424.50" x2="1771.40" y2="427.10" stroke="#6f6f6f" stroke-width="1.2"/>
<text transform="translate(1765.30,445.60) scale(1,1.0)" font-size="22.0">2</text>
<line x1="1866.80" y1="424.50" x2="1866.80" y2="427.10" stroke="#6f6f6f" stroke-width="1.2"/>
<text transform="translate(1860.75,445.60) scale(1,1.0)" font-size="22.0">3</text>
<line x1="1962.20" y1="424.50" x2="1962.20" y2="427.10" stroke="#6f6f6f" stroke-width="1.2"/>
<text transform="translate(1945.44,445.60) scale(1,1.0)" font-size="22.0">≥ 4</text>
<text transform="translate(1653.89,95.40) scale(1,1.0)" font-size="22.0">81%</text>
<text transform="translate(1748.93,356.20) scale(1,1.0)" font-size="22.0">12%</text>
<text transform="translate(1850.88,387.10) scale(1,1.0)" font-size="22.0">3%</text>
<text transform="translate(1948.44,387.10) scale(1,1.0)" font-size="22.0">4%</text>
<text transform="translate(1694.81,476.20) scale(1,1.0)" font-size="22.0">Number of Specific Cancer</text>
<text transform="translate(1767.20,502.60) scale(1,1.0)" font-size="22.0">Types / Trial</text>
<text transform="translate(1565.30,327.31) rotate(-90) scale(1,1.0)" font-size="22.0">Number of Trials</text>
</svg>
</body></html>
